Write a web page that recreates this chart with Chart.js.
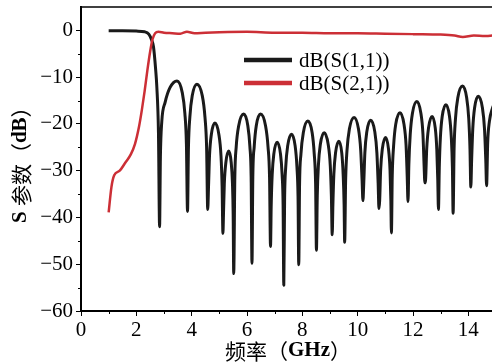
<!DOCTYPE html>
<html>
<head>
<meta charset="utf-8">
<script src="https://cdn.jsdelivr.net/npm/chart.js@4.4.1/dist/chart.umd.min.js"></script>
<style>
html, body { margin: 0; padding: 0; background: #fff; overflow: hidden; }
#wrap { width: 496px; height: 363px; }
</style>
</head>
<body>
<div id="wrap"><canvas id="chart" width="496" height="363"></canvas></div>
<script>
// S11 (GHz / dB)
var s11Freq = [1.0, 1.5, 2.0, 2.3, 2.45, 2.55, 2.62, 2.7, 2.74, 2.8, 2.84,
	2.87, 2.92, 3.04, 3.22, 3.47, 3.66, 3.755, 3.81, 3.85,
	3.884, 3.935, 4.02, 4.19, 4.385, 4.48, 4.54, 4.58,
	4.61, 4.645, 4.71, 4.84, 4.985, 5.06, 5.10, 5.13,
	5.15, 5.18, 5.235, 5.34, 5.43, 5.475, 5.50, 5.52,
	5.56, 5.61, 5.70, 5.88, 6.03, 6.105, 6.15, 6.18,
	6.21, 6.26, 6.335, 6.49, 6.67, 6.76, 6.815, 6.85,
	6.875, 6.91, 6.97, 7.09, 7.21, 7.27, 7.305, 7.33,
	7.36, 7.40, 7.47, 7.61, 7.74, 7.805, 7.845, 7.87,
	7.90, 7.95, 8.035, 8.20, 8.355, 8.43, 8.48, 8.51,
	8.54, 8.58, 8.65, 8.79, 8.935, 9.01, 9.05, 9.08,
	9.105, 9.14, 9.20, 9.32, 9.425, 9.475, 9.51, 9.53,
	9.565, 9.615, 9.70, 9.87, 10.03, 10.11, 10.16, 10.19,
	10.22, 10.26, 10.33, 10.47, 10.62, 10.695, 10.74, 10.77,
	10.795, 10.83, 10.89, 11.01, 11.115, 11.17, 11.20, 11.22,
	11.25, 11.30, 11.375, 11.53, 11.675, 11.75, 11.79, 11.82,
	11.85, 11.90, 11.98, 12.14, 12.285, 12.36, 12.40, 12.43,
	12.455, 12.495, 12.56, 12.69, 12.805, 12.86, 12.895, 12.92,
	12.95, 12.99, 13.055, 13.19, 13.32, 13.385, 13.425, 13.45,
	13.485, 13.535, 13.62, 13.79, 13.94, 14.015, 14.06, 14.09,
	14.12, 14.16, 14.225, 14.36, 14.51, 14.585, 14.63, 14.66,
	14.7, 14.76, 14.88, 15.0];
var s11Db = [-0.1, -0.1, -0.15, -0.3, -0.8, -2.0, -3.5, -8.5, -12, -22, -42,
	-27, -19.5, -15.4, -12.2, -10.8, -13.3, -17.8, -24.3, -38.7,
	-25, -18.5, -14.0, -11.5, -14.0, -18.5, -25.0, -38.3,
	-33.3, -26.8, -22.3, -19.8, -22.3, -26.8, -33.3, -43.4,
	-39.3, -32.8, -28.3, -25.8, -28.3, -32.8, -39.3, -52,
	-31.4, -24.9, -20.4, -17.9, -20.4, -24.9, -31.4, -49.8,
	-31.4, -24.9, -20.4, -17.9, -20.4, -24.9, -31.4, -46.2,
	-37.4, -30.9, -26.4, -23.9, -26.4, -30.9, -37.4, -54.5,
	-35.7, -29.2, -24.7, -22.2, -24.7, -29.2, -35.7, -50.1,
	-32.9, -26.4, -21.9, -19.4, -21.9, -26.4, -32.9, -47,
	-35.4, -28.9, -24.4, -21.9, -24.4, -28.9, -35.4, -43.7,
	-37.2, -30.7, -26.2, -23.7, -26.2, -30.7, -37.2, -45.3,
	-32.1, -25.6, -21.1, -18.6, -21.1, -25.6, -32.1, -36.4,
	-32.7, -26.2, -21.7, -19.2, -21.7, -26.2, -32.7, -38.1,
	-36.4, -29.9, -25.4, -22.9, -25.4, -29.9, -36.4, -43.3,
	-31.1, -24.6, -20.1, -17.6, -20.1, -24.6, -31.1, -36.6,
	-28.7, -22.2, -17.7, -15.2, -17.7, -22.2, -28.7, -32.6,
	-31.9, -25.4, -20.9, -18.4, -20.9, -25.4, -31.9, -38.3,
	-29.4, -22.9, -18.4, -15.9, -18.4, -22.9, -29.4, -39.1,
	-25.4, -18.9, -14.4, -11.9, -14.4, -18.9, -25.4, -33.5,
	-27.6, -21.1, -16.6, -14.1, -16.6, -21.1, -27.6, -33.2,
	-24, -19.5, -16.5, -15];

// S21
var s21Freq = [1.0, 1.1, 1.2, 1.4, 1.6, 1.8, 1.95, 2.1, 2.2, 2.3, 2.4, 2.5, 2.58, 2.68, 2.8,
	3.0, 3.3, 3.59, 3.83, 4.1, 4.5, 5, 6, 7, 8, 9, 10, 11, 12, 13, 13.5, 13.8, 14.2, 14.6, 15];
var s21Db = [-38.9, -33.5, -31.0, -30.0, -28.3, -26.5, -24.3, -20.5, -17.0, -13.0, -8.5, -4.5, -2.0, -0.6, -0.3,
	-0.5, -0.6, -0.7, -0.3, -0.6, -0.5, -0.4, -0.3, -0.5, -0.5, -0.6, -0.6, -0.7, -0.8, -0.9, -1.1, -1.4, -1.1, -1.2, -1.0];

var seriesNames = ['dB(S(1,1))', 'dB(S(2,1))'];
var xTickValues = [0, 2, 4, 6, 8, 10, 12, 14];
var yTickValues = [-60, -50, -40, -30, -20, -10, 0];

function pts(xs, ys) {
	return xs.map(function(x, i) { return {x: x, y: ys[i]}; });
}

var serif = '"Liberation Serif", "Times New Roman", serif';
var cjk = '"Noto Sans CJK SC", sans-serif';

function drawRuns(ctx, runs, x, y) {
	runs.forEach(function(r) {
		ctx.font = r.f;
		ctx.fillText(r.t, x, y);
		x += ctx.measureText(r.t).width;
	});
}

var decor = {
	id: 'decor',
	afterDraw: function(chart) {
		var ctx = chart.ctx, a = chart.chartArea;
		var xs = chart.scales.x, ys = chart.scales.y;
		ctx.save();
		ctx.strokeStyle = '#000';

		// top frame line
		ctx.lineWidth = 1.5;
		ctx.beginPath();
		ctx.moveTo(a.left, a.top);
		ctx.lineTo(a.right, a.top);
		ctx.stroke();

		// minor ticks
		ctx.lineWidth = 1;
		ctx.beginPath();
		for (var v = 1; v < 15; v += 2) {
			var px = Math.round(xs.getPixelForValue(v)) + 0.5;
			ctx.moveTo(px, a.bottom);
			ctx.lineTo(px, a.bottom + 3);
		}
		for (var w = -55; w < 0; w += 10) {
			var py = Math.round(ys.getPixelForValue(w)) + 0.5;
			ctx.moveTo(a.left, py);
			ctx.lineTo(a.left - 3, py);
		}
		ctx.stroke();

		// legend
		var ds = chart.data.datasets;
		ctx.textBaseline = 'middle';
		ctx.textAlign = 'left';
		ctx.fillStyle = '#000';
		ctx.font = '21px ' + serif;
		[60, 83].forEach(function(ly, i) {
			ctx.strokeStyle = ds[i].borderColor;
			ctx.lineWidth = 4.5;
			ctx.beginPath();
			ctx.moveTo(244, ly);
			ctx.lineTo(292, ly);
			ctx.stroke();
			ctx.fillText(ds[i].label, 299, ly + 1);
		});

		// axis titles
		var bold = 'bold 21px ' + serif;
		var han = '21px ' + cjk;
		ctx.textBaseline = 'middle';
		drawRuns(ctx, [{t: '频率', f: han}, {t: '（', f: han}, {t: 'GHz', f: bold}, {t: '）', f: han}], 225, 351);

		ctx.translate(21, 223);
		ctx.rotate(-Math.PI / 2);
		drawRuns(ctx, [{t: 'S ', f: bold}, {t: '参数', f: han}, {t: '（', f: han}, {t: 'dB', f: bold}, {t: '）', f: han}], 0, 0);
		ctx.restore();
	}
};

var ctx = document.getElementById('chart');
var chart = new Chart(ctx, {
	type: 'line',
	data: {
		datasets: [
			{
				label: seriesNames[0],
				data: pts(s11Freq, s11Db),
				borderColor: '#1a1a1a',
				borderWidth: 3,
				cubicInterpolationMode: 'monotone',
				borderJoinStyle: 'round',
				pointRadius: 0,
				order: 1
			},
			{
				label: seriesNames[1],
				data: pts(s21Freq, s21Db),
				borderColor: '#cc2f36',
				borderWidth: 2.5,
				cubicInterpolationMode: 'monotone',
				borderJoinStyle: 'round',
				pointRadius: 0,
				order: 0
			}
		]
	},
	options: {
		responsive: false,
		animation: false,
		devicePixelRatio: 1,
		layout: { padding: { top: 7, left: 0, right: 0, bottom: 0 } },
		plugins: { legend: { display: false }, tooltip: { enabled: false } },
		scales: {
			x: {
				type: 'linear',
				min: 0,
				max: 15,
				afterBuildTicks: function(s) {
					s.ticks = xTickValues.map(function(v) { return {value: v}; });
				},
				afterFit: function(s) {
					s.height = 52;
					s.paddingLeft = 0;
					s.paddingRight = 0;
				},
				ticks: {
					font: { family: serif, size: 21 },
					color: '#000',
					padding: 2,
					maxRotation: 0,
					autoSkip: false
				},
				grid: { drawOnChartArea: false, tickLength: 5, color: '#000', lineWidth: 1 },
				border: { display: true, color: '#000', width: 2 }
			},
			y: {
				type: 'linear',
				min: -60,
				max: 5,
				afterBuildTicks: function(s) {
					s.ticks = yTickValues.map(function(v) { return {value: v}; });
				},
				afterFit: function(s) {
					s.width = 81;
					s.paddingTop = 0;
					s.paddingBottom = 0;
				},
				ticks: {
					font: { family: serif, size: 21 },
					color: '#000',
					padding: 3,
					callback: function(v) { return v < 0 ? '\u2212' + Math.abs(v) : '' + v; }
				},
				grid: { drawOnChartArea: false, tickLength: 5, color: '#000', lineWidth: 1 },
				border: { display: true, color: '#000', width: 2 }
			}
		}
	},
	plugins: [decor]
});
</script>
</body>
</html>
